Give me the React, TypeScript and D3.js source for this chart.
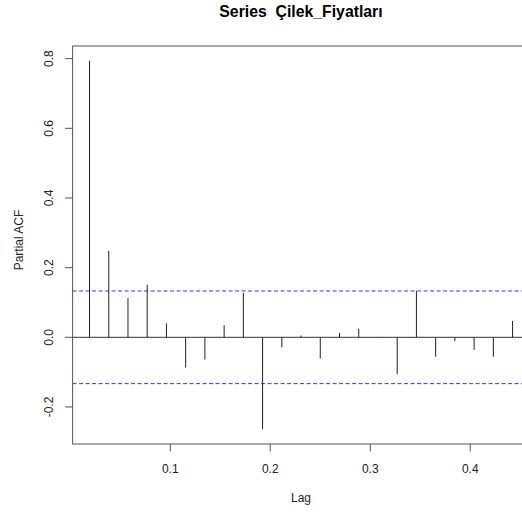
import React from "react";
import * as d3 from "d3";

const title = "Series  Çilek_Fiyatları";
const xLabel = "Lag";
const yLabel = "Partial ACF";
const frequency = 52;
const lagIndex = [1, 2, 3, 4, 5, 6, 7, 8, 9, 10, 11, 12, 13, 14, 15, 16, 17, 18, 19, 20, 21, 22, 23];
const pacf = [
  0.794, 0.248, 0.113, 0.151, 0.040, -0.087, -0.064, 0.035, 0.128, -0.264, -0.029, 0.005,
  -0.061, 0.012, 0.024, 0.001, -0.106, 0.133, -0.056, -0.011, -0.036, -0.056, 0.047,
];
const ciLimit = 0.133;
const xTicks = [0.1, 0.2, 0.3, 0.4];
const yTicks = [-0.2, 0.0, 0.2, 0.4, 0.6, 0.8];

const W = 522;
const H = 513;
const left = 72.6;
const right = 529.5;
const top = 46;
const bottom = 444;
const font = "'Liberation Sans', Arial, sans-serif";

export default function App() {
  const lags = lagIndex.map((i) => i / frequency);
  const ext = (lo: number, hi: number) => {
    const d = (hi - lo) * 0.04;
    return [lo - d, hi + d];
  };
  const xDom = ext(d3.min(lags)!, d3.max(lags)!);
  const yDom = ext(Math.min(d3.min(pacf)!, -ciLimit), Math.max(d3.max(pacf)!, ciLimit));
  const x = d3.scaleLinear().domain(xDom).range([left, right]);
  const y = d3.scaleLinear().domain(yDom).range([bottom, top]);
  const axisColor = "#555";

  return (
    <svg
      width={W}
      height={H}
      style={{ position: "absolute", left: 0, top: 0, background: "#fff" }}
      fontFamily={font}
    >
      <rect x={0} y={0} width={W} height={H} fill="#fff" />
      <text x={301} y={17} textAnchor="middle" fontSize={15.8} fontWeight="bold" fill="#000" style={{ whiteSpace: "pre" }}>
        {title}
      </text>
      {/* box */}
      <rect x={left} y={top} width={right - left} height={bottom - top} fill="none" stroke={axisColor} strokeWidth={1} />
      {/* zero line */}
      <line x1={left} x2={right} y1={y(0)} y2={y(0)} stroke="#333" strokeWidth={1} />
      {/* CI lines */}
      {[ciLimit, -ciLimit].map((c, i) => (
        <line key={i} x1={left} x2={right} y1={y(c)} y2={y(c)} stroke="#3333ee" strokeWidth={1} strokeDasharray="4,2.5" />
      ))}
      {/* bars */}
      {pacf.map((v, i) => (
        <line key={i} x1={x(lags[i])} x2={x(lags[i])} y1={y(0)} y2={y(v)} stroke="#222" strokeWidth={1} />
      ))}
      {/* x axis */}
      {xTicks.map((t) => (
        <g key={t}>
          <line x1={x(t)} x2={x(t)} y1={bottom} y2={bottom + 7.5} stroke={axisColor} />
          <text x={x(t)} y={473} textAnchor="middle" fontSize={12} fill="#222">
            {t.toFixed(1)}
          </text>
        </g>
      ))}
      <text x={301} y={502} textAnchor="middle" fontSize={12} fill="#222">
        {xLabel}
      </text>
      {/* y axis */}
      {yTicks.map((t) => (
        <g key={t}>
          <line x1={left - 7.5} x2={left} y1={y(t)} y2={y(t)} stroke={axisColor} />
          <text
            transform={`translate(${53},${y(t)}) rotate(-90)`}
            textAnchor="middle"
            fontSize={12}
            fill="#222"
          >
            {t.toFixed(1)}
          </text>
        </g>
      ))}
      <text transform={`translate(23,240) rotate(-90)`} textAnchor="middle" fontSize={12} fill="#222">
        {yLabel}
      </text>
    </svg>
  );
}
